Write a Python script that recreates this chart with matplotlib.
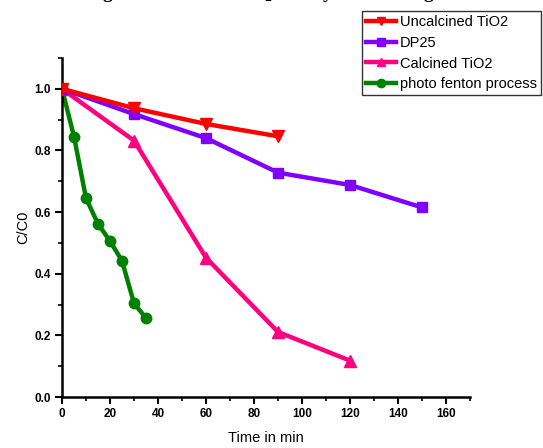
import matplotlib
matplotlib.use("Agg")
import matplotlib.pyplot as plt
from matplotlib.ticker import MultipleLocator

plt.rcParams['font.family'] = ['Liberation Sans', 'DejaVu Sans']
plt.rcParams['mathtext.fontset'] = 'custom'
plt.rcParams['mathtext.rm'] = 'Liberation Serif:bold'
plt.rcParams['mathtext.bf'] = 'Liberation Serif:bold'

# Data
t_uncal = [0, 30, 60, 90]
c_uncal = [1.0, 0.937, 0.886, 0.846]
t_dp25 = [0, 30, 60, 90, 120, 150]
c_dp25 = [1.0, 0.918, 0.840, 0.728, 0.688, 0.615]
t_cal = [0, 30, 60, 90, 120]
c_cal = [1.0, 0.832, 0.452, 0.211, 0.118]
t_fenton = [0, 5, 10, 15, 20, 25, 30, 35]
c_fenton = [1.0, 0.845, 0.645, 0.562, 0.506, 0.442, 0.304, 0.256]

labels = ["Uncalcined TiO2", "DP25", "Calcined TiO2", "photo fenton process"]
x_ticks = [0, 20, 40, 60, 80, 100, 120, 140, 160]
y_ticks = [0.0, 0.2, 0.4, 0.6, 0.8, 1.0]

fig = plt.figure(figsize=(5.43, 4.48), dpi=100)
ax = fig.add_axes([62/543, 1-397/448, (470-62)/543, (397-58)/448])

lw = 3.2
ax.plot(t_uncal, c_uncal, color='#ff0000', marker='v', ms=8, lw=lw, label=labels[0], zorder=5)
ax.plot(t_dp25, c_dp25, color='#8000ff', marker='s', ms=7, lw=lw, label=labels[1], zorder=4)
ax.plot(t_cal, c_cal, color='#ff0080', marker='^', ms=8, lw=lw, label=labels[2], zorder=3)
ax.plot(t_fenton, c_fenton, color='#008000', marker='o', ms=7.5, lw=lw, label=labels[3], zorder=2)

ax.set_xlim(0, 170)
ax.set_ylim(0, 1.1)
ax.set_xticks(x_ticks)
ax.set_yticks(y_ticks)
ax.set_xticklabels([str(v) for v in x_ticks], fontweight='bold', fontsize=8.5)
ax.set_yticklabels([f"{v:.1f}" for v in y_ticks], fontweight='bold', fontsize=8.5)
ax.xaxis.set_minor_locator(MultipleLocator(10))
ax.yaxis.set_minor_locator(MultipleLocator(0.1))
ax.tick_params(which='major', direction='out', length=5, width=1.5, pad=3)
ax.tick_params(which='minor', direction='out', length=3, width=1.2)
for s in ['top', 'right']:
    ax.spines[s].set_visible(False)
for s in ['left', 'bottom']:
    ax.spines[s].set_linewidth(1.8)

ax.set_xlabel("Time in min", fontsize=10.5, labelpad=8)
ax.set_ylabel("C/C0", fontsize=10.5, labelpad=3)

leg = fig.legend(loc='upper left', bbox_to_anchor=(362/543, 1-11/448),
                 fontsize=10.5, frameon=True, fancybox=False, edgecolor='black',
                 handlelength=2.0, handletextpad=0.3, labelspacing=0.45,
                 borderpad=0.3, borderaxespad=0, markerscale=0.8)
leg.get_frame().set_linewidth(1.0)

# Title, mostly cropped above the figure edge (as in the reference)
fig.text(80/543, 1 + 2.2/448, r"Degradation with TiO$_2$ Catalyst under Light",
         fontsize=14, fontfamily='Liberation Serif', fontweight='bold',
         ha='left', va='baseline')

fig.savefig("out.png", dpi=100)
